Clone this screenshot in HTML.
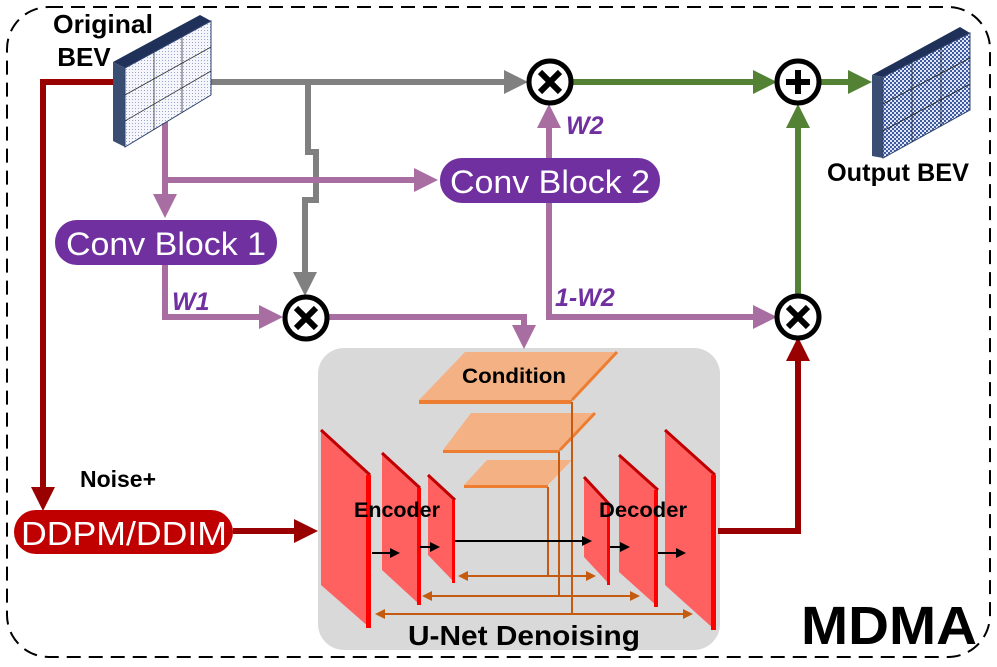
<!DOCTYPE html>
<html><head><meta charset="utf-8"><style>
html,body{margin:0;padding:0;background:#fff;width:997px;height:667px;overflow:hidden}
text{font-family:"Liberation Sans",sans-serif}
</style></head><body>
<svg width="997" height="667" viewBox="0 0 997 667" xmlns="http://www.w3.org/2000/svg">
<defs>
<pattern id="dots" width="3" height="3" patternUnits="userSpaceOnUse"><rect width="3" height="3" fill="#f4f6fb"/><rect width="1" height="1" fill="#9aa5c8"/></pattern>
<pattern id="bdots" width="4" height="4" patternUnits="userSpaceOnUse"><rect width="4" height="4" fill="#dfe6f5"/><rect width="2" height="2" fill="#3f5a9e"/><rect x="2" y="2" width="2" height="2" fill="#3f5a9e"/></pattern>
<marker id="ag" markerWidth="4" markerHeight="4" refX="3" refY="2" orient="auto" markerUnits="strokeWidth"><path d="M0,0L4,2L0,4z" fill="#808080"/></marker>
<marker id="ap" markerWidth="4" markerHeight="4" refX="3" refY="2" orient="auto" markerUnits="strokeWidth"><path d="M0,0L4,2L0,4z" fill="#a86ea2"/></marker>
<marker id="agr" markerWidth="4" markerHeight="4" refX="3" refY="2" orient="auto" markerUnits="strokeWidth"><path d="M0,0L4,2L0,4z" fill="#548235"/></marker>
<marker id="ar" markerWidth="4" markerHeight="4" refX="3" refY="2" orient="auto" markerUnits="strokeWidth"><path d="M0,0L4,2L0,4z" fill="#990000"/></marker>
<marker id="ak" markerWidth="5" markerHeight="5" refX="4" refY="2.5" orient="auto" markerUnits="strokeWidth"><path d="M0,0L5,2.5L0,5z" fill="#000"/></marker>
<marker id="ao" markerWidth="5" markerHeight="5" refX="4" refY="2.5" orient="auto-start-reverse" markerUnits="strokeWidth"><path d="M0,0L5,2.5L0,5z" fill="#c55a11"/></marker>
</defs>
<rect x="7" y="7" width="983" height="650" rx="42" fill="none" stroke="#000" stroke-width="2" stroke-dasharray="14,8"/>

<rect x="318" y="348" width="402" height="302" rx="26" fill="#d9d9d9"/>

<polyline points="200,82 522,82" fill="none" stroke="#808080" stroke-width="6" marker-end="url(#ag)"/>
<polyline points="308,82 308,152 316,152 316,200 305,200 305,290" fill="none" stroke="#808080" stroke-width="6" marker-end="url(#ag)"/>

<polyline points="165,122 165,212" fill="none" stroke="#a86ea2" stroke-width="6" marker-end="url(#ap)"/>
<polyline points="165,180 432,180" fill="none" stroke="#a86ea2" stroke-width="6" marker-end="url(#ap)"/>
<polyline points="165,265 165,317 277,317" fill="none" stroke="#a86ea2" stroke-width="6" marker-end="url(#ap)"/>
<polyline points="329,317 524,317 524,343" fill="none" stroke="#a86ea2" stroke-width="6" marker-end="url(#ap)"/>
<polyline points="549,158 549,110" fill="none" stroke="#a86ea2" stroke-width="6" marker-end="url(#ap)"/>
<polyline points="549,203 549,317 771,317" fill="none" stroke="#a86ea2" stroke-width="6" marker-end="url(#ap)"/>

<polyline points="573,82 771,82" fill="none" stroke="#548235" stroke-width="6" marker-end="url(#agr)"/>
<polyline points="821,82 866,82" fill="none" stroke="#548235" stroke-width="6" marker-end="url(#agr)"/>
<polyline points="798,294 798,110" fill="none" stroke="#548235" stroke-width="6" marker-end="url(#agr)"/>

<polyline points="123,82 43,82 43,505" fill="none" stroke="#990000" stroke-width="6" marker-end="url(#ar)"/>
<polyline points="233,531 312,531" fill="none" stroke="#990000" stroke-width="6" marker-end="url(#ar)"/>
<polyline points="718,531 798,531 798,343" fill="none" stroke="#990000" stroke-width="6" marker-end="url(#ar)"/>

<polygon points="113,62 200,15 211,21 125,68" fill="#1f3159"/>
<polygon points="113,62 125,68 125,147 113,141" fill="#3a4d73"/>
<polygon points="125,68 211,21 211,95 125,147" fill="url(#dots)" stroke="#2f4470" stroke-width="1"/>
<g stroke="#333" stroke-width="0.8"><line x1="154" y1="52" x2="154" y2="130"/><line x1="182" y1="37" x2="182" y2="113"/><line x1="125" y1="95" x2="211" y2="47"/><line x1="125" y1="121" x2="211" y2="71"/></g>
<text x="103" y="33" font-size="26" font-weight="bold" text-anchor="middle" textLength="100" lengthAdjust="spacingAndGlyphs">Original</text>
<text x="84" y="66" font-size="26" font-weight="bold" text-anchor="middle">BEV</text>

<polygon points="872,75 960,27 970,33 883,77" fill="#1f3159"/>
<polygon points="872,75 883,77 883,158 872,156" fill="#3a4d73"/>
<polygon points="883,77 970,33 970,110 883,158" fill="url(#bdots)" stroke="#2f4470"/>
<g stroke="#222" stroke-width="0.8"><line x1="912" y1="62" x2="912" y2="142"/><line x1="941" y1="48" x2="941" y2="126"/><line x1="883" y1="104" x2="970" y2="58"/><line x1="883" y1="131" x2="970" y2="84"/></g>
<text x="898" y="181" font-size="25" font-weight="bold" text-anchor="middle" textLength="142" lengthAdjust="spacingAndGlyphs">Output BEV</text>

<rect x="55" y="220" width="222" height="45" rx="22" fill="#7030a0"/>
<text x="166" y="255" font-size="32" fill="#fff" text-anchor="middle" textLength="200" lengthAdjust="spacingAndGlyphs">Conv Block 1</text>
<rect x="440" y="158" width="220" height="45" rx="22" fill="#7030a0"/>
<text x="550" y="193" font-size="32" fill="#fff" text-anchor="middle" textLength="200" lengthAdjust="spacingAndGlyphs">Conv Block 2</text>
<text x="172" y="310" font-size="25" font-weight="bold" font-style="italic" fill="#7030a0">W1</text>
<text x="566" y="134" font-size="25" font-weight="bold" font-style="italic" fill="#7030a0">W2</text>
<text x="555" y="306" font-size="25" font-weight="bold" font-style="italic" fill="#7030a0">1-W2</text>

<g stroke="#000" fill="#fff" stroke-width="5">
<circle cx="306" cy="318" r="21"/><circle cx="550" cy="82" r="21"/><circle cx="798" cy="317" r="21"/><circle cx="798" cy="82" r="21"/>
</g>
<g stroke="#000" stroke-width="6">
<path d="M296,308L316,328M316,308L296,328"/><path d="M540,72L560,92M560,72L540,92"/><path d="M788,307L808,327M808,307L788,327"/><path d="M786,82H810M798,70V94"/>
</g>

<rect x="14" y="510" width="219" height="44" rx="22" fill="#c00000"/>
<text x="124" y="545" font-size="33" fill="#fff" text-anchor="middle" textLength="206" lengthAdjust="spacingAndGlyphs">DDPM/DDIM</text>
<text x="118" y="487" font-size="23" font-weight="bold" text-anchor="middle">Noise+</text>

<polygon points="465,352 617,352 572,400 419,400" fill="#f4b183"/><polygon points="419,400 572,400 572,404 419,404" fill="#ed7d31"/><line x1="572" y1="400" x2="617" y2="352" stroke="#ed7d31" stroke-width="3"/>
<polygon points="471,413 595,413 560,450 443,450" fill="#f4b183"/><polygon points="443,450 560,450 560,453 443,453" fill="#ed7d31"/><line x1="560" y1="450" x2="595" y2="413" stroke="#ed7d31" stroke-width="3"/>
<polygon points="487,460 572,460 548,485 464,485" fill="#f4b183"/><polygon points="464,485 548,485 548,488 464,488" fill="#ed7d31"/>
<text x="514" y="383" font-size="21" font-weight="bold" text-anchor="middle" textLength="104" lengthAdjust="spacingAndGlyphs">Condition</text>
<g stroke="#c55a11" stroke-width="2" fill="none">
<line x1="572" y1="402" x2="572" y2="614"/><line x1="559" y1="452" x2="559" y2="596"/><line x1="548" y1="487" x2="548" y2="576"/>
<line x1="460" y1="576" x2="594" y2="576" marker-start="url(#ao)" marker-end="url(#ao)"/>
<line x1="424" y1="596" x2="638" y2="596" marker-start="url(#ao)" marker-end="url(#ao)"/>
<line x1="377" y1="614" x2="691" y2="614" marker-start="url(#ao)" marker-end="url(#ao)"/>
</g>

<g>
<polygon points="321,430 370,475 370,628 321,585" fill="#ff6161"/><line x1="321" y1="430" x2="370" y2="475" stroke="#c00000" stroke-width="3"/><rect x="366" y="475" width="5" height="153" fill="#ff0000"/>
<polygon points="382,453 420,488 420,605 382,570" fill="#ff6161"/><line x1="382" y1="453" x2="420" y2="488" stroke="#c00000" stroke-width="3"/><rect x="417" y="488" width="4" height="117" fill="#ff0000"/>
<polygon points="428,475 455,500 455,583 428,555" fill="#ff6161"/><line x1="428" y1="475" x2="455" y2="500" stroke="#c00000" stroke-width="3"/><rect x="452" y="500" width="3" height="83" fill="#ff0000"/>
<polygon points="584,477 610,505 610,585 584,557" fill="#ff6161"/><line x1="584" y1="477" x2="610" y2="505" stroke="#c00000" stroke-width="3"/><rect x="607" y="505" width="3" height="80" fill="#ff0000"/>
<polygon points="619,455 658,490 658,607 619,572" fill="#ff6161"/><line x1="619" y1="455" x2="658" y2="490" stroke="#c00000" stroke-width="3"/><rect x="654" y="490" width="4" height="117" fill="#ff0000"/>
<polygon points="665,430 715,475 715,630 665,585" fill="#ff6161"/><line x1="665" y1="430" x2="715" y2="475" stroke="#c00000" stroke-width="3"/><rect x="711" y="475" width="5" height="155" fill="#ff0000"/>
</g>
<g stroke="#000" stroke-width="2">
<line x1="372" y1="553" x2="398" y2="553" marker-end="url(#ak)"/>
<line x1="420" y1="547" x2="438" y2="547" marker-end="url(#ak)"/>
<line x1="455" y1="541" x2="590" y2="541" marker-end="url(#ak)"/>
<line x1="610" y1="547" x2="628" y2="547" marker-end="url(#ak)"/>
<line x1="658" y1="553" x2="684" y2="553" marker-end="url(#ak)"/>
</g>
<text x="397" y="517" font-size="21" font-weight="bold" text-anchor="middle" textLength="86" lengthAdjust="spacingAndGlyphs">Encoder</text>
<text x="643" y="517" font-size="21" font-weight="bold" text-anchor="middle" textLength="88" lengthAdjust="spacingAndGlyphs">Decoder</text>
<text x="524" y="645" font-size="28" font-weight="bold" text-anchor="middle" textLength="232" lengthAdjust="spacingAndGlyphs">U-Net Denoising</text>
<text x="889" y="644" font-size="54" font-weight="bold" text-anchor="middle" textLength="176" lengthAdjust="spacingAndGlyphs">MDMA</text>
</svg>
</body></html>
